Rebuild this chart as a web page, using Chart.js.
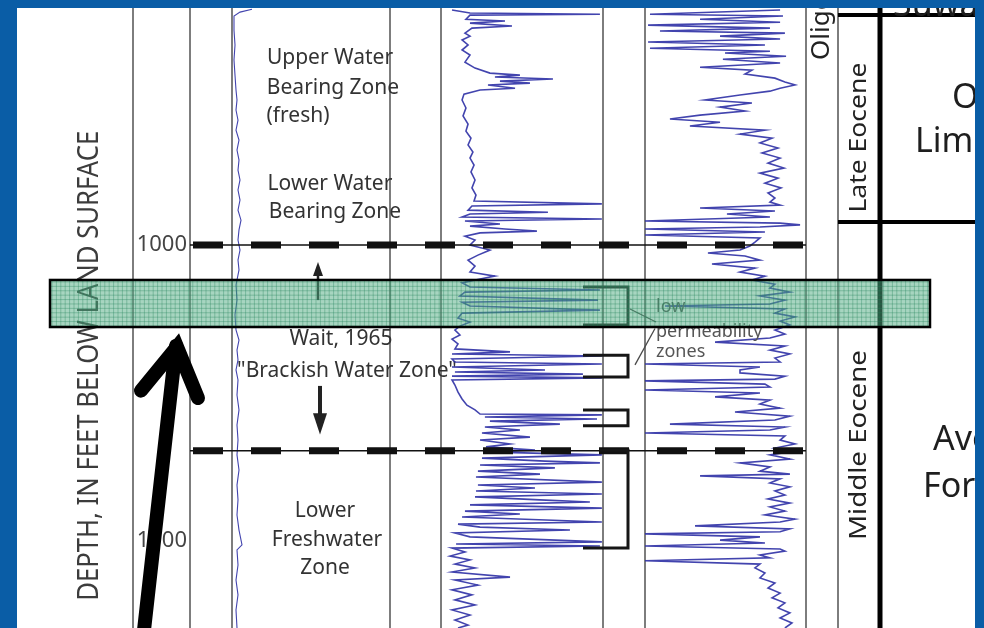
<!DOCTYPE html>
<html>
<head>
<meta charset="utf-8">
<script src="https://cdn.jsdelivr.net/npm/chart.js@4.4.1/dist/chart.umd.min.js"></script>
<style>
  html, body { margin: 0; padding: 0; background: #0a5da6; }
  canvas { display: block; }
</style>
</head>
<body>
<canvas id="log" width="984" height="628"></canvas>
<script>
// ---------------------------------------------------------------
// Well log data (depth in feet below land surface, curve values in
// percent of track scale)
// ---------------------------------------------------------------
const spDepth = [920.3, 921.3, 922.6, 927.4, 932.4, 937.5, 942.6, 947.6, 951.0, 954.4, 957.8, 961.2, 964.5, 967.9, 971.3, 974.7, 978.0, 981.4, 984.8, 988.2, 991.6, 994.9, 998.3, 1001.7, 1005.1, 1008.4, 1013.5, 1018.6, 1023.6, 1028.7, 1032.1, 1035.5, 1038.8, 1042.2, 1045.6, 1050.7, 1055.7, 1060.8, 1065.9, 1070.9, 1076.0, 1081.1, 1086.1, 1091.2, 1096.3, 1101.3, 1103.0, 1108.1, 1113.2, 1118.2, 1123.3, 1129.4];
const spValue = [31, 25, 22, 22, 22.5, 22, 22.5, 23, 23.5, 23, 24, 23, 24.5, 23.5, 24.5, 24, 25, 24, 25, 24, 25.5, 24.5, 24, 25, 24, 24.5, 23, 23.5, 22.5, 23, 24.5, 23.5, 24, 23, 24, 23.5, 24.5, 23.5, 24, 23.5, 24.5, 23.5, 24, 23.5, 24.5, 26, 23.5, 24, 23, 24, 23, 23.5];

const gammaDepth = [920.6, 921.6, 922.0, 922.3, 923.7, 924.3, 925.0, 926.0, 926.7, 928.4, 929.4, 930.7, 932.4, 934.1, 935.8, 938.2, 940.2, 941.9, 942.6, 943.2, 943.9, 944.6, 945.3, 945.9, 947.0, 947.6, 949.0, 951.0, 953.7, 956.4, 959.1, 961.5, 963.9, 966.2, 968.6, 970.6, 973.0, 975.3, 978.0, 980.7, 983.1, 985.1, 986.1, 986.8, 988.2, 988.9, 989.5, 990.5, 991.2, 991.9, 992.9, 993.6, 994.6, 995.3, 995.9, 997.0, 998.3, 1000.0, 1001.7, 1003.4, 1005.1, 1007.1, 1009.1, 1010.5, 1011.5, 1012.8, 1014.2, 1015.2, 1015.9, 1017.2, 1018.6, 1019.3, 1020.6, 1022.0, 1023.0, 1024.7, 1026.0, 1027.4, 1028.7, 1030.4, 1031.8, 1033.4, 1035.1, 1036.1, 1036.8, 1037.5, 1038.5, 1039.5, 1040.2, 1041.2, 1042.2, 1042.9, 1043.6, 1044.3, 1044.9, 1045.6, 1047.3, 1049.7, 1052.0, 1054.1, 1055.7, 1057.1, 1057.4, 1058.1, 1058.8, 1059.5, 1060.5, 1061.5, 1062.5, 1063.5, 1064.9, 1065.9, 1067.2, 1068.2, 1069.3, 1069.9, 1070.9, 1072.0, 1073.0, 1073.6, 1074.3, 1075.3, 1076.4, 1077.4, 1078.4, 1080.1, 1081.1, 1082.1, 1083.1, 1084.1, 1085.1, 1086.1, 1086.8, 1087.8, 1088.9, 1089.9, 1090.9, 1091.9, 1093.6, 1094.3, 1095.3, 1096.3, 1097.3, 1098.6, 1100.3, 1101.0, 1101.7, 1102.4, 1103.7, 1105.1, 1106.4, 1107.8, 1109.1, 1110.5, 1112.2, 1113.2, 1114.9, 1116.5, 1118.2, 1119.9, 1121.6, 1123.3, 1125.0, 1126.7, 1128.4, 1129.4];
const gammaValue = [6.8, 17.9, 98.1, 17.9, 15.4, 39.5, 17.9, 43.8, 19.1, 14.8, 17.9, 13.0, 16.7, 13.0, 17.9, 14.8, 21.0, 30.2, 48.7, 33.3, 69.1, 36.4, 54.9, 29.0, 45.7, 24.1, 14.2, 13.0, 15.4, 13.6, 16.7, 15.4, 18.5, 16.7, 19.7, 17.9, 20.4, 18.5, 21.0, 19.1, 21.6, 20.4, 99.3, 19.1, 16.7, 66.0, 17.9, 13.0, 99.3, 14.8, 36.4, 17.9, 39.5, 59.2, 24.1, 14.8, 21.0, 17.9, 30.2, 22.8, 16.7, 21.0, 17.9, 33.3, 24.1, 13.0, 17.9, 98.1, 14.8, 11.7, 96.9, 13.0, 17.9, 98.1, 13.0, 10.5, 17.9, 11.7, 8.6, 11.7, 6.8, 10.5, 8.6, 42.6, 6.8, 99.3, 6.8, 8.6, 99.3, 6.8, 64.2, 8.6, 87.6, 6.8, 99.3, 6.8, 8.6, 10.5, 13.0, 16.0, 21.0, 24.1, 99.3, 27.1, 96.3, 30.2, 73.4, 27.1, 48.7, 25.3, 54.9, 24.1, 42.6, 27.8, 58.0, 26.5, 99.3, 25.3, 64.2, 98.1, 24.1, 70.3, 22.8, 61.1, 21.6, 99.3, 22.8, 58.0, 21.6, 99.3, 21.0, 61.1, 91.9, 17.9, 99.3, 14.8, 48.7, 13.0, 99.3, 10.5, 24.1, 79.6, 8.6, 17.9, 99.3, 9.3, 98.1, 6.8, 14.8, 5.6, 17.9, 8.6, 21.0, 6.8, 42.6, 8.6, 22.8, 6.8, 19.1, 8.6, 21.0, 6.8, 17.9, 8.6, 16.7, 10.5];

const resDepth = [920.6, 922.0, 922.6, 923.7, 924.7, 925.7, 926.7, 927.7, 928.4, 929.4, 930.4, 931.4, 932.4, 933.5, 934.5, 935.1, 936.2, 937.2, 938.5, 939.9, 940.9, 942.2, 943.6, 944.9, 945.9, 947.0, 948.0, 949.3, 951.0, 952.0, 953.4, 954.7, 956.1, 957.4, 958.5, 959.8, 961.2, 962.5, 963.9, 965.5, 967.2, 968.9, 970.6, 972.3, 974.0, 975.7, 977.4, 979.1, 980.7, 982.4, 984.1, 985.5, 986.5, 987.5, 988.5, 989.5, 990.5, 991.9, 992.6, 993.2, 993.9, 994.6, 995.6, 996.6, 997.6, 999.0, 1000.3, 1001.7, 1002.7, 1003.7, 1005.1, 1006.4, 1007.8, 1009.1, 1010.5, 1011.8, 1013.2, 1014.5, 1015.9, 1017.2, 1018.6, 1019.9, 1020.6, 1021.6, 1023.0, 1024.3, 1025.7, 1027.0, 1028.7, 1030.1, 1031.4, 1032.8, 1034.1, 1035.5, 1036.8, 1038.2, 1039.5, 1040.2, 1041.2, 1042.2, 1043.2, 1044.3, 1045.3, 1045.9, 1047.0, 1048.0, 1049.0, 1050.0, 1051.3, 1052.4, 1053.7, 1055.1, 1056.4, 1057.8, 1059.1, 1060.5, 1061.5, 1062.5, 1063.5, 1064.5, 1065.9, 1067.2, 1068.6, 1069.6, 1070.9, 1072.3, 1073.6, 1075.0, 1076.4, 1077.4, 1078.0, 1079.0, 1080.4, 1081.7, 1083.1, 1084.5, 1085.8, 1087.2, 1088.5, 1089.9, 1091.2, 1092.6, 1093.6, 1094.9, 1095.9, 1096.9, 1097.6, 1098.6, 1099.7, 1100.7, 1101.7, 1102.7, 1103.4, 1104.7, 1105.7, 1106.7, 1107.8, 1109.1, 1110.8, 1112.5, 1114.2, 1115.9, 1117.6, 1119.2, 1120.9, 1122.6, 1124.3, 1126.0, 1127.7, 1129.4];
const resValue = [83.9, 3.1, 85.7, 34.2, 83.9, 1.9, 77.6, 9.3, 86.9, 46.6, 83.9, 1.9, 74.5, 3.1, 77.6, 49.7, 87.6, 48.4, 83.9, 34.2, 66.4, 62.1, 80.7, 86.9, 93.2, 83.9, 77.6, 59.0, 37.3, 66.4, 46.6, 62.1, 34.2, 15.5, 46.6, 27.9, 74.5, 59.0, 78.9, 71.4, 82.6, 72.7, 83.9, 76.4, 86.3, 71.4, 82.6, 74.5, 84.5, 76.4, 80.7, 77.6, 83.9, 34.2, 80.7, 50.9, 77.6, 0, 83.9, 96.3, 71.4, 0, 74.5, 0, 71.4, 68.3, 65.2, 59.0, 39.1, 62.1, 71.4, 41.6, 68.3, 59.0, 74.5, 66.4, 80.7, 77.6, 90.0, 71.4, 86.9, 77.6, 12.4, 86.9, 80.7, 93.2, 83.9, 90.0, 80.7, 86.9, 77.6, 43.5, 86.9, 77.6, 90.0, 80.7, 83.9, 0, 71.4, 59.0, 59.0, 86.9, 80.7, 0, 74.5, 77.6, 0, 71.4, 43.5, 77.6, 71.4, 83.9, 55.9, 90.0, 80.7, 15.5, 86.9, 77.6, 0, 86.9, 83.9, 93.2, 80.7, 93.2, 77.6, 90.0, 59.0, 77.6, 71.4, 90.0, 34.2, 83.9, 77.6, 90.0, 80.7, 86.9, 76.4, 90.0, 77.6, 86.9, 74.5, 93.2, 83.9, 31.1, 90.0, 83.9, 0, 71.4, 46.6, 74.5, 0, 83.9, 86.9, 71.4, 77.6, 0, 71.4, 68.3, 74.5, 71.4, 80.7, 76.4, 83.9, 78.9, 86.9, 82.6, 90.0, 83.9, 91.3, 86.9];

// Depth ticks and interpreted boundaries (feet)
const depthTicks = [1000, 1100];
const zoneBoundaryDepths = [1000, 1069.5];
const contactDepths = [922.3, 992.2];          // Oligocene / Late Eocene, Late / Middle Eocene
const lowPermTop  = [1014.2, 1037.2, 1055.7, 1069.3];
const lowPermBase = [1027.0, 1044.6, 1061.1, 1102.4];
const highlightTop = 1011.8, highlightBase = 1027.7;

// Hydrogeologic zone annotations
const zoneText  = ['Upper Water', 'Bearing Zone', '(fresh)', 'Lower Water', 'Bearing Zone', 'Wait, 1965', '"Brackish Water Zone"', 'Lower', 'Freshwater', 'Zone'];
const zoneDepth = [936.8, 947.0, 956.4, 979.4, 988.9, 1031.6, 1042.4, 1089.9, 1099.7, 1109.1];
const lowPermText  = ['low', 'permeability', 'zones'];
const lowPermDepth = [1020.9, 1029.4, 1036.1];

// Stratigraphic units
const epochText  = ['Oligocene', 'Late Eocene', 'Middle Eocene'];
const formationText  = ['Suwannee', 'Ocala', 'Limestone', 'Avon Park', 'Formation'];
const formationDepth = [919.3, 950.3, 965.2, 1065.9, 1081.8];

// ---------------------------------------------------------------
// Layout (panel units map 1:1 onto the x scale)
// ---------------------------------------------------------------
const W = 984, H = 628;
const BLUE = '#0a5da6';
const INK = '#333333';
const LOG_BLUE = 'rgba(46, 48, 165, 0.9)';
const FONT = '"Noto Sans", "Open Sans", sans-serif';
const panel = { left: 17, right: 975, topPx: 8 };
const trackLines = [133, 190, 232, 390, 441, 603, 645, 806, 838];
const trackSp = [190, 390], trackGamma = [441, 603], trackRes = [645, 806];
const zoneX     = [330, 333, 298, 330, 335, 341, 347, 325, 327, 325];
const formationX = [893, 952, 915, 933, 923];

function trackScale(edges) {
  const k = 100 / (edges[1] - edges[0]);
  return { type: 'linear', display: false, min: -edges[0] * k, max: (W - edges[0]) * k };
}
function series(depths, values) {
  return depths.map((d, i) => ({ x: values[i], y: d }));
}

function text(ctx, str, x, y, size, opts = {}) {
  ctx.save();
  ctx.font = `${opts.weight || ''} ${size}px ${FONT}`;
  ctx.fillStyle = opts.color || INK;
  ctx.textAlign = opts.align || 'center';
  ctx.textBaseline = opts.baseline || 'middle';
  ctx.translate(x, y);
  if (opts.rotate) ctx.rotate(opts.rotate);
  if (opts.length) {
    const w = ctx.measureText(str).width;
    ctx.scale(opts.length / w, 1);
  }
  ctx.fillText(str, 0, 0);
  ctx.restore();
}

function clipPanel(chart, ctx) {
  const X = v => chart.scales.x.getPixelForValue(v);
  ctx.beginPath();
  ctx.rect(X(panel.left), panel.topPx, X(panel.right) - X(panel.left), H - panel.topPx);
  ctx.clip();
}

// Frame, tracks, stratigraphic column and labels (behind the curves)
const backdrop = {
  id: 'backdrop',
  beforeDraw(chart) {
    const { ctx } = chart;
    const X = v => chart.scales.x.getPixelForValue(v);
    const Y = d => chart.scales.y.getPixelForValue(d);
    ctx.save();
    ctx.fillStyle = BLUE;
    ctx.fillRect(0, 0, W, H);
    ctx.fillStyle = '#ffffff';
    ctx.fillRect(X(panel.left), panel.topPx, X(panel.right) - X(panel.left), H - panel.topPx);
    clipPanel(chart, ctx);

    // track boundaries
    ctx.strokeStyle = '#7d7d7d';
    ctx.lineWidth = 2;
    trackLines.forEach(x => {
      ctx.beginPath(); ctx.moveTo(X(x), 0); ctx.lineTo(X(x), H); ctx.stroke();
    });

    // epoch / formation column
    ctx.strokeStyle = '#000';
    ctx.lineWidth = 5;
    ctx.beginPath(); ctx.moveTo(X(880), 0); ctx.lineTo(X(880), H); ctx.stroke();
    ctx.lineWidth = 4;
    contactDepths.forEach(d => {
      ctx.beginPath(); ctx.moveTo(X(838), Y(d)); ctx.lineTo(X(panel.right), Y(d)); ctx.stroke();
    });
    text(ctx, epochText[0], X(822), 60, 26, { rotate: -Math.PI / 2, align: 'left', color: '#222' });
    text(ctx, epochText[1], X(859), Y(963.7), 24, { rotate: -Math.PI / 2, color: '#222', length: 150 });
    text(ctx, epochText[2], X(859), Y(1067.6), 24, { rotate: -Math.PI / 2, color: '#222', length: 190 });
    formationText.forEach((s, i) => {
      text(ctx, s, X(formationX[i]), Y(formationDepth[i]), 34, { align: 'left', color: '#1e1e1e' });
    });

    // depth axis title and tick labels
    text(ctx, 'DEPTH, IN FEET BELOW LAND SURFACE', X(90), Y(1040.8), 29,
      { rotate: -Math.PI / 2, color: '#3c3c3c', length: 470 });
    depthTicks.forEach(d => {
      text(ctx, String(d), X(187), Y(d), 22, { align: 'right', color: '#444' });
    });

    // zone annotations
    zoneText.forEach((s, i) => text(ctx, s, X(zoneX[i]), Y(zoneDepth[i]), 21));
    ctx.restore();
  }
};

// Interpretation drawn over the curves
const overlay = {
  id: 'overlay',
  afterDatasetsDraw(chart) {
    const { ctx } = chart;
    const X = v => chart.scales.x.getPixelForValue(v);
    const Y = d => chart.scales.y.getPixelForValue(d);
    ctx.save();
    clipPanel(chart, ctx);

    // zone boundaries: thin rule with heavy dashes
    zoneBoundaryDepths.forEach(d => {
      const y = Y(d);
      ctx.setLineDash([]);
      ctx.strokeStyle = '#111';
      ctx.lineWidth = 1.5;
      ctx.beginPath(); ctx.moveTo(X(190), y); ctx.lineTo(X(806), y); ctx.stroke();
      ctx.lineWidth = 7;
      ctx.setLineDash([30, 28]);
      ctx.beginPath(); ctx.moveTo(X(193), y); ctx.lineTo(X(806), y); ctx.stroke();
    });
    ctx.setLineDash([]);

    // low-permeability brackets
    ctx.strokeStyle = '#161616';
    ctx.lineWidth = 3;
    ctx.lineJoin = 'miter';
    lowPermTop.forEach((top, i) => {
      const start = i === 3 ? 600 : 583;
      ctx.beginPath();
      ctx.moveTo(X(start), Y(top));
      ctx.lineTo(X(628), Y(top));
      ctx.lineTo(X(628), Y(lowPermBase[i]));
      ctx.lineTo(X(583), Y(lowPermBase[i]));
      ctx.stroke();
    });
    // leader lines to the note
    ctx.strokeStyle = '#4a4a4a';
    ctx.lineWidth = 1.3;
    ctx.beginPath(); ctx.moveTo(X(630), Y(1021.6)); ctx.lineTo(X(656), Y(1026.0)); ctx.stroke();
    ctx.beginPath(); ctx.moveTo(X(635), Y(1040.5)); ctx.lineTo(X(655), Y(1028.2)); ctx.stroke();
    lowPermText.forEach((s, i) => text(ctx, s, X(656), Y(lowPermDepth[i]), 18, { align: 'left', color: '#555' }));

    // direction arrows for the brackish zone limits
    ctx.fillStyle = '#222';
    ctx.strokeStyle = '#222';
    ctx.lineWidth = 2.5;
    ctx.beginPath(); ctx.moveTo(X(318), Y(1018.6)); ctx.lineTo(X(318), Y(1009.5)); ctx.stroke();
    ctx.beginPath();
    ctx.moveTo(X(318), Y(1005.7)); ctx.lineTo(X(313), Y(1010.5)); ctx.lineTo(X(323), Y(1010.5)); ctx.closePath(); ctx.fill();
    ctx.lineWidth = 4;
    ctx.beginPath(); ctx.moveTo(X(320), Y(1047.6)); ctx.lineTo(X(320), Y(1058.5)); ctx.stroke();
    ctx.beginPath();
    ctx.moveTo(X(320), Y(1064.0)); ctx.lineTo(X(313), Y(1056.8)); ctx.lineTo(X(327), Y(1056.8)); ctx.closePath(); ctx.fill();

    // highlighted interval
    const bx = X(50), bw = X(930) - X(50);
    const by = Y(highlightTop), bh = Y(highlightBase) - Y(highlightTop);
    ctx.fillStyle = 'rgba(80, 172, 130, 0.5)';
    ctx.fillRect(bx, by, bw, bh);
    ctx.strokeStyle = 'rgba(35, 130, 90, 0.35)';
    ctx.lineWidth = 1;
    ctx.beginPath();
    for (let x = bx + 2; x < bx + bw; x += 4.4) { ctx.moveTo(x, by); ctx.lineTo(x, by + bh); }
    for (let y = by + 2; y < by + bh; y += 4.4) { ctx.moveTo(bx, y); ctx.lineTo(bx + bw, y); }
    ctx.stroke();
    ctx.strokeStyle = '#000';
    ctx.lineWidth = 2.5;
    ctx.strokeRect(bx, by, bw, bh);

    // pointer to the highlighted interval
    ctx.strokeStyle = '#000';
    ctx.lineWidth = 14;
    ctx.lineCap = 'round';
    ctx.beginPath(); ctx.moveTo(X(142), H + 20); ctx.lineTo(X(176), Y(1034.0)); ctx.stroke();
    ctx.lineJoin = 'miter';
    ctx.miterLimit = 10;
    ctx.beginPath();
    ctx.moveTo(X(141), Y(1049.2));
    ctx.lineTo(X(177), Y(1034.4));
    ctx.lineTo(X(198), Y(1051.7));
    ctx.stroke();
    ctx.restore();
  }
};

const curveStyle = { showLine: true, pointRadius: 0, borderWidth: 1.6, borderColor: LOG_BLUE, tension: 0, fill: false };

new Chart(document.getElementById('log'), {
  type: 'scatter',
  data: {
    datasets: [
      Object.assign({ label: 'Spontaneous potential', data: series(spDepth, spValue), xAxisID: 'xSp', yAxisID: 'y' }, curveStyle, { borderWidth: 1.1 }),
      Object.assign({ label: 'Natural gamma', data: series(gammaDepth, gammaValue), xAxisID: 'xGamma', yAxisID: 'y' }, curveStyle),
      Object.assign({ label: 'Resistivity', data: series(resDepth, resValue), xAxisID: 'xRes', yAxisID: 'y' }, curveStyle)
    ]
  },
  options: {
    responsive: false,
    animation: false,
    events: [],
    layout: { padding: 0 },
    plugins: { legend: { display: false }, tooltip: { enabled: false } },
    scales: {
      x: { type: 'linear', display: false, min: 0, max: W },
      xSp: trackScale(trackSp),
      xGamma: trackScale(trackGamma),
      xRes: trackScale(trackRes),
      y: { type: 'linear', display: false, reverse: true, min: 917.2, max: 1129.4 }
    }
  },
  plugins: [backdrop, overlay]
});
</script>
</body>
</html>
